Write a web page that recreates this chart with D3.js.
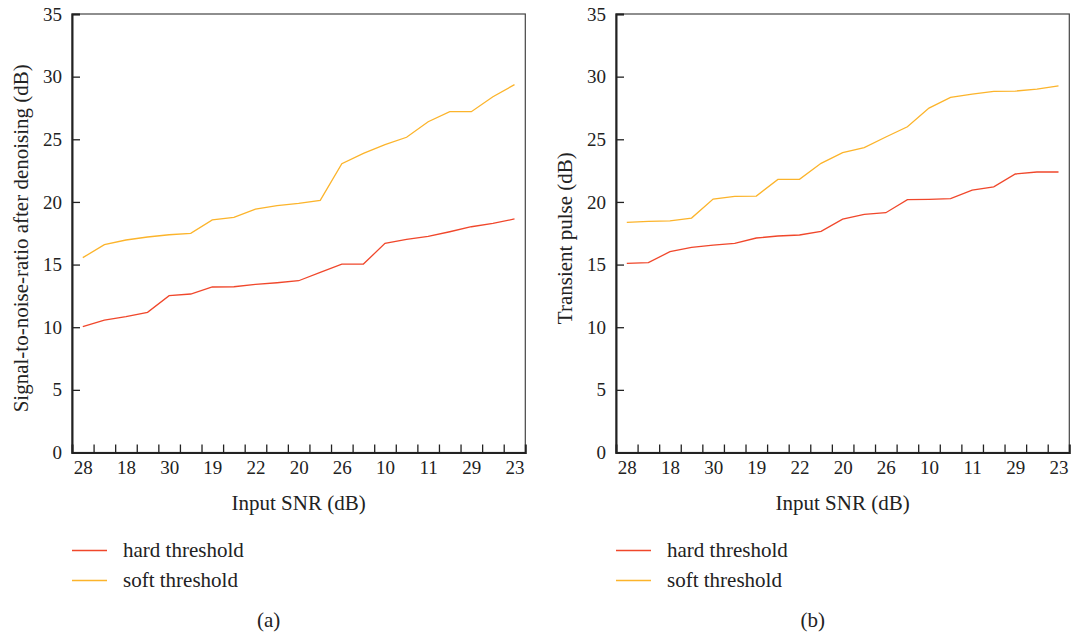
<!DOCTYPE html>
<html>
<head>
<meta charset="utf-8">
<script src="https://cdn.jsdelivr.net/npm/d3@7"></script>
<style>
  html, body { margin: 0; padding: 0; background: #fff; }
  svg { display: block; }
  svg text { font-family: "Liberation Serif", "Times New Roman", serif; }
</style>
</head>
<body>
<svg id="chart" width="1071" height="637"></svg>
<script>
// x categories: 21 points, only every other one is labelled
const categoryCount = 21;
const tickLabels = ['28', '18', '30', '19', '22', '20', '26', '10', '11', '29', '23'];
const seriesNames = ['hard threshold', 'soft threshold'];
const seriesColors = ['#f0472b', '#fcb42b'];

// panel (a): SNR after denoising
const hardA = [10.04, 10.57, 10.84, 11.19, 12.52, 12.65, 13.21, 13.23, 13.42, 13.55, 13.71,
               14.38, 15.04, 15.04, 16.69, 17.01, 17.25, 17.62, 18.02, 18.29, 18.64];
const softA = [15.55, 16.59, 16.96, 17.2, 17.38, 17.49, 18.56, 18.77, 19.43, 19.7, 19.89,
               20.13, 23.05, 23.88, 24.57, 25.16, 26.4, 27.2, 27.2, 28.4, 29.36];

// panel (b): transient pulse
const hardB = [15.1, 15.15, 16.03, 16.38, 16.56, 16.7, 17.12, 17.28, 17.36, 17.65, 18.63,
               19.01, 19.14, 20.18, 20.21, 20.26, 20.95, 21.21, 22.23, 22.39, 22.39];
const softB = [18.37, 18.45, 18.48, 18.71, 20.23, 20.45, 20.47, 21.8, 21.8, 23.08, 23.93,
               24.33, 25.18, 26.0, 27.49, 28.35, 28.61, 28.83, 28.85, 29.0, 29.27];

const svg = d3.select('#chart');
const W = 453.3, H = 438.5;
const ink = '#222';

function panel(left, yTitle, series, tag) {
  const g = svg.append('g').attr('transform', `translate(${left},14)`);
  const x = d3.scaleLinear().domain([0, categoryCount]).range([0, W]);
  const y = d3.scaleLinear().domain([0, 35]).range([H, 0]);

  // thin frame on top/right
  g.append('rect').attr('width', W).attr('height', H)
    .attr('fill', 'none').attr('stroke', '#444').attr('stroke-width', 1.2);

  // y axis, ticks pointing inward
  const yAx = g.append('g')
    .call(d3.axisLeft(y).tickValues(d3.range(0, 36, 5)).tickSize(-8).tickPadding(10));
  yAx.select('.domain').attr('stroke', ink).attr('stroke-width', 2);
  yAx.selectAll('.tick line').attr('stroke', ink).attr('stroke-width', 1.3);
  yAx.selectAll('text').style('font-size', '19px').attr('fill', ink);

  // x axis: ticks at category boundaries
  const xAx = g.append('g').attr('transform', `translate(0,${H})`)
    .call(d3.axisBottom(x).tickValues(d3.range(1, categoryCount)).tickSize(-8).tickFormat(''));
  xAx.select('.domain').attr('stroke', ink).attr('stroke-width', 2);
  xAx.selectAll('.tick line').attr('stroke', ink).attr('stroke-width', 1.3);

  // x labels at every other category centre
  const lab = g.append('g').attr('transform', `translate(0,${H})`)
    .call(d3.axisBottom(x).tickValues(tickLabels.map((_, i) => i * 2 + 0.5))
      .tickFormat((d, i) => tickLabels[i]).tickSize(0).tickPadding(8));
  lab.select('.domain').remove();
  lab.selectAll('text').style('font-size', '19px').attr('fill', ink);

  // lines
  const line = d3.line().x((d, i) => x(i + 0.5)).y(d => y(d));
  series.forEach((vals, k) => {
    g.append('path').datum(vals)
      .attr('fill', 'none').attr('stroke', seriesColors[k]).attr('stroke-width', 1.3)
      .attr('d', line);
  });

  // axis titles
  g.append('text').attr('x', W / 2).attr('y', H + 57)
    .attr('text-anchor', 'middle').style('font-size', '21px').attr('fill', ink)
    .text('Input SNR (dB)');
  g.append('text')
    .attr('transform', `translate(-44,${H / 2 + 5}) rotate(-90)`)
    .attr('text-anchor', 'middle').style('font-size', '21px').attr('fill', ink)
    .text(yTitle);

  // legend
  seriesNames.forEach((name, k) => {
    const ly = H + 98 + k * 30;
    g.append('line').attr('x1', 0).attr('x2', 35).attr('y1', ly).attr('y2', ly)
      .attr('stroke', seriesColors[k]).attr('stroke-width', 1.5);
    g.append('text').attr('x', 51).attr('y', ly + 6)
      .style('font-size', '21px').attr('fill', ink).text(name);
  });

  g.append('text').attr('x', W / 2 - 30).attr('y', H + 174)
    .attr('text-anchor', 'middle').style('font-size', '21px').attr('fill', ink).text(tag);
}

panel(72, 'Signal-to-noise-ratio after denoising (dB)', [hardA, softA], '(a)');
panel(616, 'Transient pulse (dB)', [hardB, softB], '(b)');
</script>
</body>
</html>
